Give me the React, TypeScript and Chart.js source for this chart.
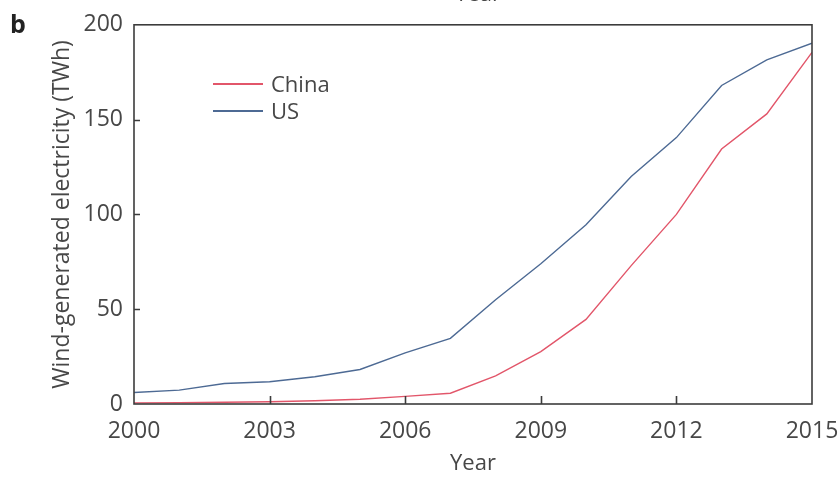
import React, { useEffect, useRef } from "react";
import { Chart, registerables } from "chart.js";

Chart.register(...registerables);

// Annual wind-generated electricity (TWh)
const years = [2000, 2001, 2002, 2003, 2004, 2005, 2006, 2007, 2008, 2009, 2010, 2011, 2012, 2013, 2014, 2015];
const china = [0.6, 0.7, 0.9, 1.2, 1.7, 2.5, 4.0, 5.7, 14.8, 27.6, 44.6, 73.0, 100.0, 134.5, 153.0, 185.5];
const us = [6.1, 7.3, 10.8, 11.7, 14.4, 18.2, 27.0, 34.6, 55.0, 74.0, 94.5, 120.0, 140.5, 168.0, 181.5, 190.3];

const xTicks = [2000, 2003, 2006, 2009, 2012, 2015];
const yTicks = [0, 50, 100, 150, 200];

const seriesNames = ["China", "US"];
const seriesColors = ["#e2566a", "#4d6a94"];

const FONT = "'Open Sans', 'Noto Sans', sans-serif";
const INK = "#474747";
const AXIS = "#3c3c3c";

// Frame around the plot area plus short inward tick marks
const framePlugin = {
  id: "frame",
  afterDraw(chart: any) {
    const { ctx, chartArea } = chart;
    const { left, right, top, bottom } = chartArea;
    const xs = chart.scales.x;
    const ys = chart.scales.y;
    ctx.save();
    ctx.strokeStyle = AXIS;
    ctx.lineWidth = 1.6;
    ctx.strokeRect(left, top, right - left, bottom - top);
    ctx.beginPath();
    xTicks.slice(1, -1).forEach((v) => {
      const px = Math.round(xs.getPixelForValue(v)) + 0.5;
      ctx.moveTo(px, bottom);
      ctx.lineTo(px, bottom - 8);
    });
    yTicks.slice(1, -1).forEach((v) => {
      const py = Math.round(ys.getPixelForValue(v)) + 0.5;
      ctx.moveTo(left, py);
      ctx.lineTo(left + 6, py);
    });
    ctx.stroke();
    ctx.restore();
  },
};

export default function App() {
  const canvasRef = useRef<HTMLCanvasElement | null>(null);

  useEffect(() => {
    if (!canvasRef.current) return;
    const series = [china, us];
    const chart = new Chart(canvasRef.current, {
      type: "line",
      data: {
        datasets: series.map((vals, i) => ({
          label: seriesNames[i],
          data: years.map((yr, j) => ({ x: yr, y: vals[j] })),
          borderColor: seriesColors[i],
          backgroundColor: seriesColors[i],
          borderWidth: 1.4,
          pointRadius: 0,
          tension: 0,
          fill: false,
        })),
      },
      options: {
        responsive: false,
        animation: false,
        events: [],
        layout: { padding: { left: 0, right: 28, top: 23, bottom: 0 } },
        plugins: {
          legend: { display: false },
          tooltip: { enabled: false },
        },
        scales: {
          x: {
            type: "linear",
            min: 2000,
            max: 2015,
            afterBuildTicks: (scale: any) => {
              scale.ticks = xTicks.map((v) => ({ value: v }));
            },
            afterFit: (scale: any) => {
              scale.height = 73;
              scale.paddingLeft = 0;
              scale.paddingRight = 0;
            },
            grid: { display: false, drawTicks: false },
            border: { display: false },
            ticks: {
              padding: 14,
              maxRotation: 0,
              autoSkip: false,
              color: INK,
              font: { family: FONT, size: 23 },
              callback: (v: any) => String(v),
            },
            title: {
              display: true,
              text: "Year",
              color: INK,
              font: { family: FONT, size: 22 },
              padding: { top: 0, bottom: 0 },
            },
          },
          y: {
            min: 0,
            max: 200,
            afterBuildTicks: (scale: any) => {
              scale.ticks = yTicks.map((v) => ({ value: v }));
            },
            afterFit: (scale: any) => {
              scale.width = 134;
            },
            grid: { display: false, drawTicks: false },
            border: { display: false },
            ticks: {
              padding: 11,
              color: INK,
              font: { family: FONT, size: 23 },
              callback: (v: any) => String(v),
            },
            title: {
              display: true,
              text: "Wind-generated electricity (TWh)",
              color: INK,
              font: { family: FONT, size: 23 },
              padding: { top: 49, bottom: 0 },
            },
          },
        },
      },
      plugins: [framePlugin],
    });
    return () => chart.destroy();
  }, []);

  const textStyle: React.CSSProperties = {
    position: "absolute",
    fontFamily: FONT,
    fontSize: 22,
    lineHeight: "22px",
    color: INK,
    whiteSpace: "nowrap",
  };

  return (
    <div style={{ position: "absolute", left: 0, top: 0, width: 840, height: 477, background: "#fff", overflow: "hidden" }}>
      <canvas ref={canvasRef} width={840} height={477} style={{ position: "absolute", left: 0, top: 0 }} />
      <div style={{ ...textStyle, left: 455, top: -19 }}>Year</div>
      <div style={{ ...textStyle, left: 10, top: 11, fontSize: 25, lineHeight: "25px", fontWeight: 700, color: "#222" }}>b</div>
      {seriesNames.map((name, i) => (
        <React.Fragment key={name}>
          <div
            style={{
              position: "absolute",
              left: 213,
              top: 84 + i * 27 - 0.7,
              width: 50,
              height: 1.4,
              background: seriesColors[i],
            }}
          />
          <div style={{ ...textStyle, left: 271, top: 72 + i * 27 }}>{name}</div>
        </React.Fragment>
      ))}
    </div>
  );
}
